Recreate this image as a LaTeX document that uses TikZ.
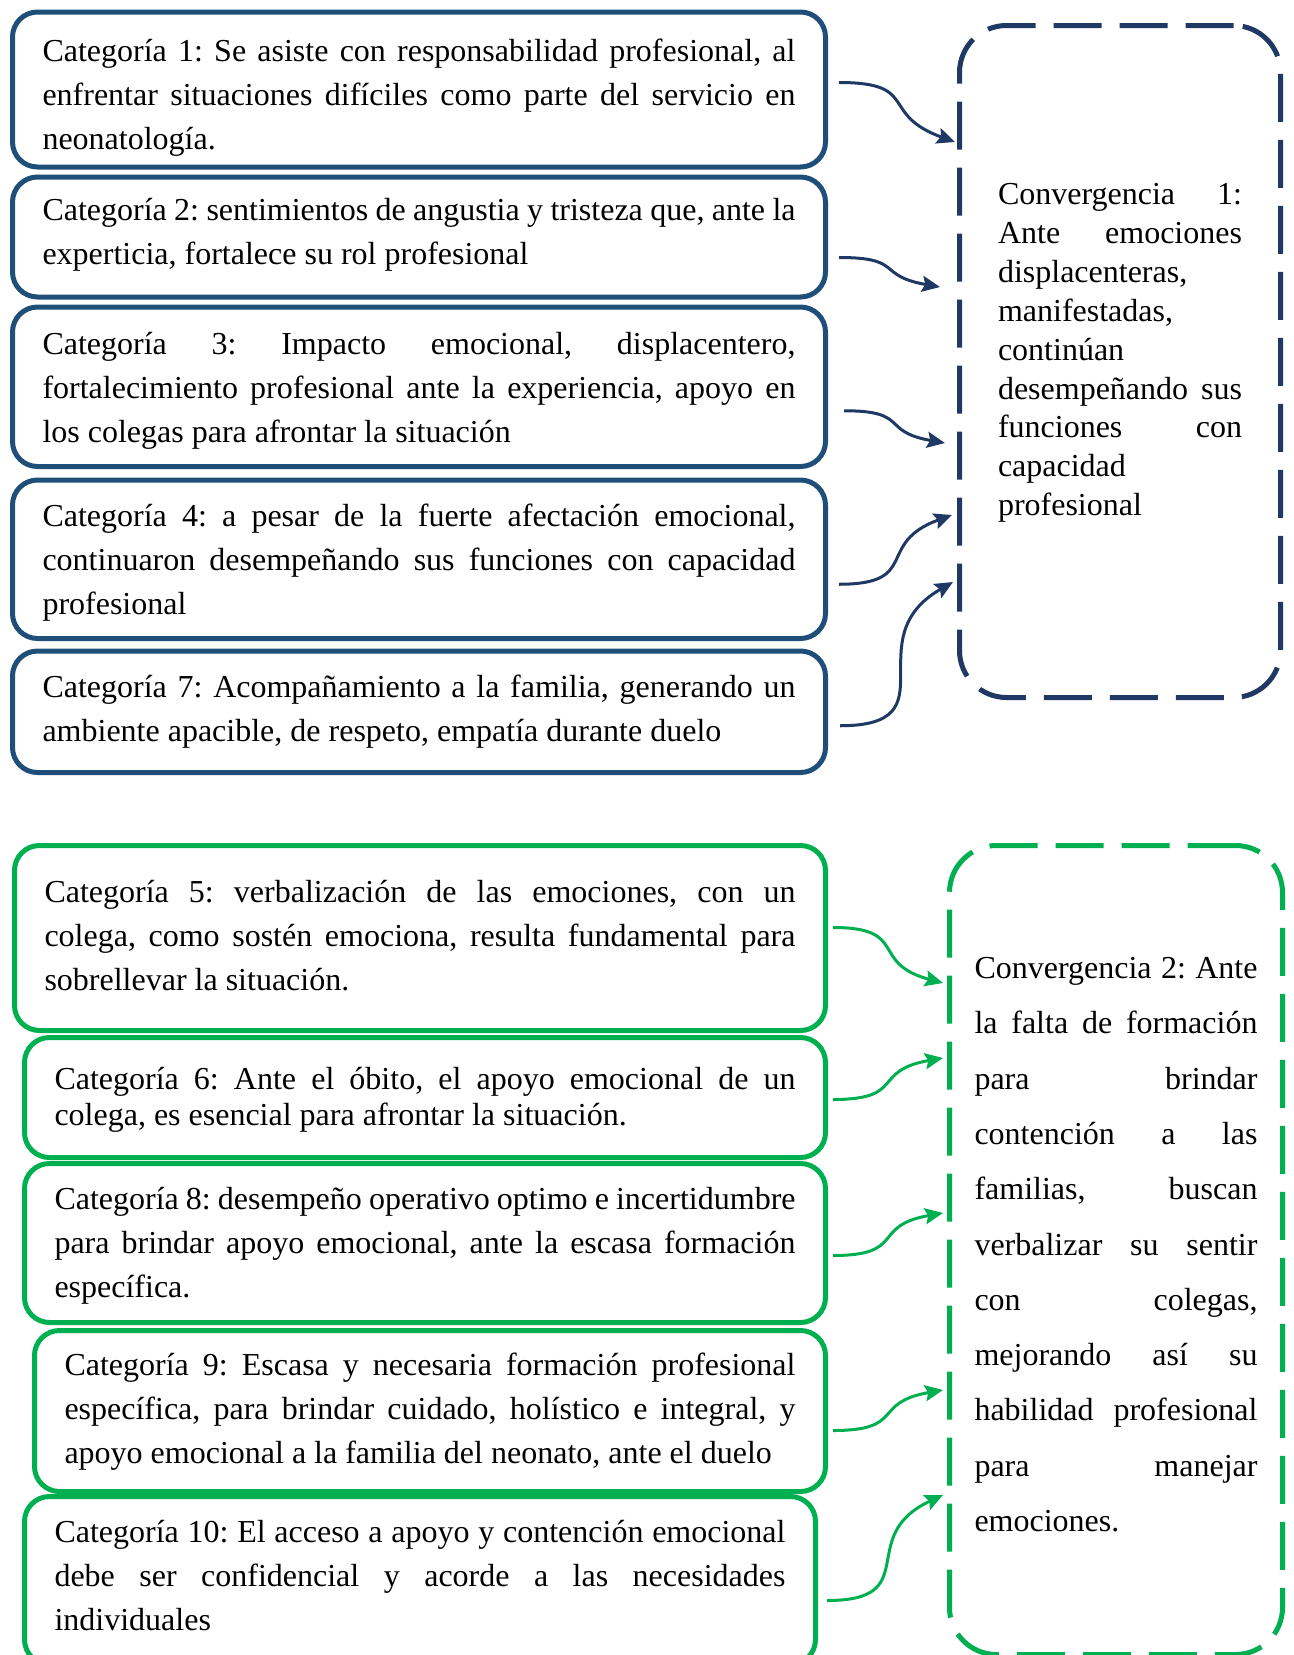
\documentclass[tikz,border=0pt]{standalone}
\usepackage{fontspec}
\setmainfont{Liberation Serif}
\usetikzlibrary{calc,arrows.meta}

\definecolor{azulcaja}{HTML}{1F4E79}
\definecolor{azulconv}{HTML}{1F3864}
\definecolor{verdecaja}{HTML}{00B050}
\frenchspacing

\begin{document}
\begin{tikzpicture}[x=0.5pt,y=0.5pt,
    categoria/.style={draw, line width=2.5pt, rounded corners=12.5pt, anchor=north west,
      inner xsep=15pt, inner ysep=0pt, align=justify,
      font=\fontsize{16pt}{22pt}\selectfont},
    catazul/.style={categoria, draw=azulcaja, text width=376.5pt},
    catverde/.style={categoria, draw=verdecaja},
    convergencia/.style={draw, line width=2.5pt, rounded corners=23.5pt, anchor=north west,
      dash pattern=on 24pt off 9pt, inner ysep=0pt, align=justify},
    flecha/.style={line width=1.5pt, -{Stealth[length=9pt,width=8pt,inset=1.5pt]}, looseness=1.6}]
  \useasboundingbox (0,0) rectangle (1294,-1655);
  \clip (0,0) rectangle (1294,-1655);

  % grupo 1
  \node[catazul, text height=24.75pt, text depth=52.75pt] (c1) at (10,-9.5)
    {Categoría 1: Se asiste con responsabilidad profesional, al\linebreak
     enfrentar situaciones difíciles como parte del servicio en\linebreak
     neonatología.};
  \node[catazul, text height=21.75pt, text depth=38.25pt] (c2) at (10,-174.5)
    {Categoría 2: sentimientos de angustia y tristeza que, ante la\linebreak
     experticia, fortalece su rol profesional};
  \node[catazul, text height=23.75pt, text depth=56pt] (c3) at (10,-304.5)
    {Categoría 3: Impacto emocional, displacentero,\linebreak
     fortalecimiento profesional ante la experiencia, apoyo en\linebreak
     los colegas para afrontar la situación};
  \node[catazul, text height=23.25pt, text depth=56pt] (c4) at (10,-477.5)
    {Categoría 4: a pesar de la fuerte afectación emocional,\linebreak
     continuaron desempeñando sus funciones con capacidad\linebreak
     profesional};
  \node[catazul, text height=23.25pt, text depth=37.5pt] (c7) at (10,-648.5)
    {Categoría 7: Acompañamiento a la familia, generando un\linebreak
     ambiente apacible, de respeto, empatía durante duelo};

  \node[convergencia, draw=azulconv, text width=122pt, inner xsep=19.25pt,
    text height=89.5pt, text depth=246.5pt,
    font=\fontsize{16pt}{19.45pt}\selectfont] (v1) at (957,-23)
    {Convergencia 1:\linebreak
     Ante emociones\linebreak
     displacenteras,\linebreak
     manifestadas,\linebreak
     continúan\linebreak
     desempeñando sus\linebreak
     funciones con\linebreak
     capacidad\linebreak
     profesional};

  \draw[flecha, azulconv] ($(c1.east)+(11,7)$) to[out=0,in=160] ($(v1.north west)+(-2,-119)$);
  \draw[flecha, azulconv] ($(c2.east)+(11,-20.5)$) to[out=0,in=170] ($(v1.north west)+(-17,-264)$);
  \draw[flecha, azulconv] ($(c3.east)+(16,-24)$) to[out=0,in=170] ($(v1.north west)+(-12,-420)$);
  \draw[flecha, azulconv] ($(c4.east)+(11,-25)$) to[out=0,in=200] ($(v1.north west)+(-5,-492)$);
  \draw[flecha, azulconv] ($(c7.east)+(12,-14)$) to[out=0,in=210] ($(v1.north west)+(-4,-559)$);

  % grupo 2
  \node[catverde, text width=375.5pt, text height=28.5pt, text depth=64pt] (c5) at (12,-843)
    {Categoría 5: verbalización de las emociones, con un\linebreak
     colega, como sostén emociona, resulta fundamental para\linebreak
     sobrellevar la situación.};
  \node[catverde, text width=370.5pt, text height=26pt, text depth=34pt,
    font=\fontsize{16pt}{18pt}\selectfont] (c6) at (22,-1035)
    {Categoría 6: Ante el óbito, el apoyo emocional de un\linebreak
     colega, es esencial para afrontar la situación.};
  \node[catverde, text width=370.5pt, text height=23pt, text depth=56.5pt] (c8) at (22,-1161)
    {Categoría 8: desempeño operativo optimo e incertidumbre\linebreak
     para brindar apoyo emocional, ante la escasa formación\linebreak
     específica.};
  \node[catverde, text width=365.5pt, text height=22.5pt, text depth=58pt] (c9) at (32,-1328)
    {Categoría 9: Escasa y necesaria formación profesional\linebreak
     específica, para brindar cuidado, holístico e integral, y\linebreak
     apoyo emocional a la familia del neonato, ante el duelo};
  \node[catverde, text width=365.5pt, text height=23pt, text depth=61pt] (c10) at (22,-1494)
    {Categoría 10: El acceso a apoyo y contención emocional\linebreak
     debe ser confidencial y acorde a las necesidades\linebreak
     individuales};

  \node[convergencia, draw=verdecaja, text width=141.5pt, inner xsep=12.5pt,
    text height=66.5pt, text depth=338pt,
    font=\fontsize{16pt}{27.65pt}\selectfont] (v2) at (947,-843)
    {\leftskip=-3.5pt\rightskip=3.5pt
     Convergencia 2: Ante\linebreak
     la falta de formación\linebreak
     para brindar\linebreak
     contención a las\linebreak
     familias, buscan\linebreak
     verbalizar su sentir\linebreak
     con colegas,\linebreak
     mejorando así su\linebreak
     habilidad profesional\linebreak
     para manejar\linebreak
     emociones.};

  \draw[flecha, verdecaja] ($(c5.east)+(5,10.5)$) to[out=0,in=165] ($(v2.north west)+(-4,-140)$);
  \draw[flecha, verdecaja] ($(c6.east)+(5,-2)$) to[out=0,in=190] ($(v2.north west)+(-4,-215)$);
  \draw[flecha, verdecaja] ($(c8.east)+(5,-12.5)$) to[out=0,in=190] ($(v2.north west)+(-4,-370)$);
  \draw[flecha, verdecaja] ($(c9.east)+(5,-19.5)$) to[out=0,in=190] ($(v2.north west)+(-4,-547)$);
  \draw[flecha, verdecaja] ($(c10.east)+(9,-20)$) to[out=0,in=205] ($(v2.north west)+(-4,-652)$);
\end{tikzpicture}
\end{document}
